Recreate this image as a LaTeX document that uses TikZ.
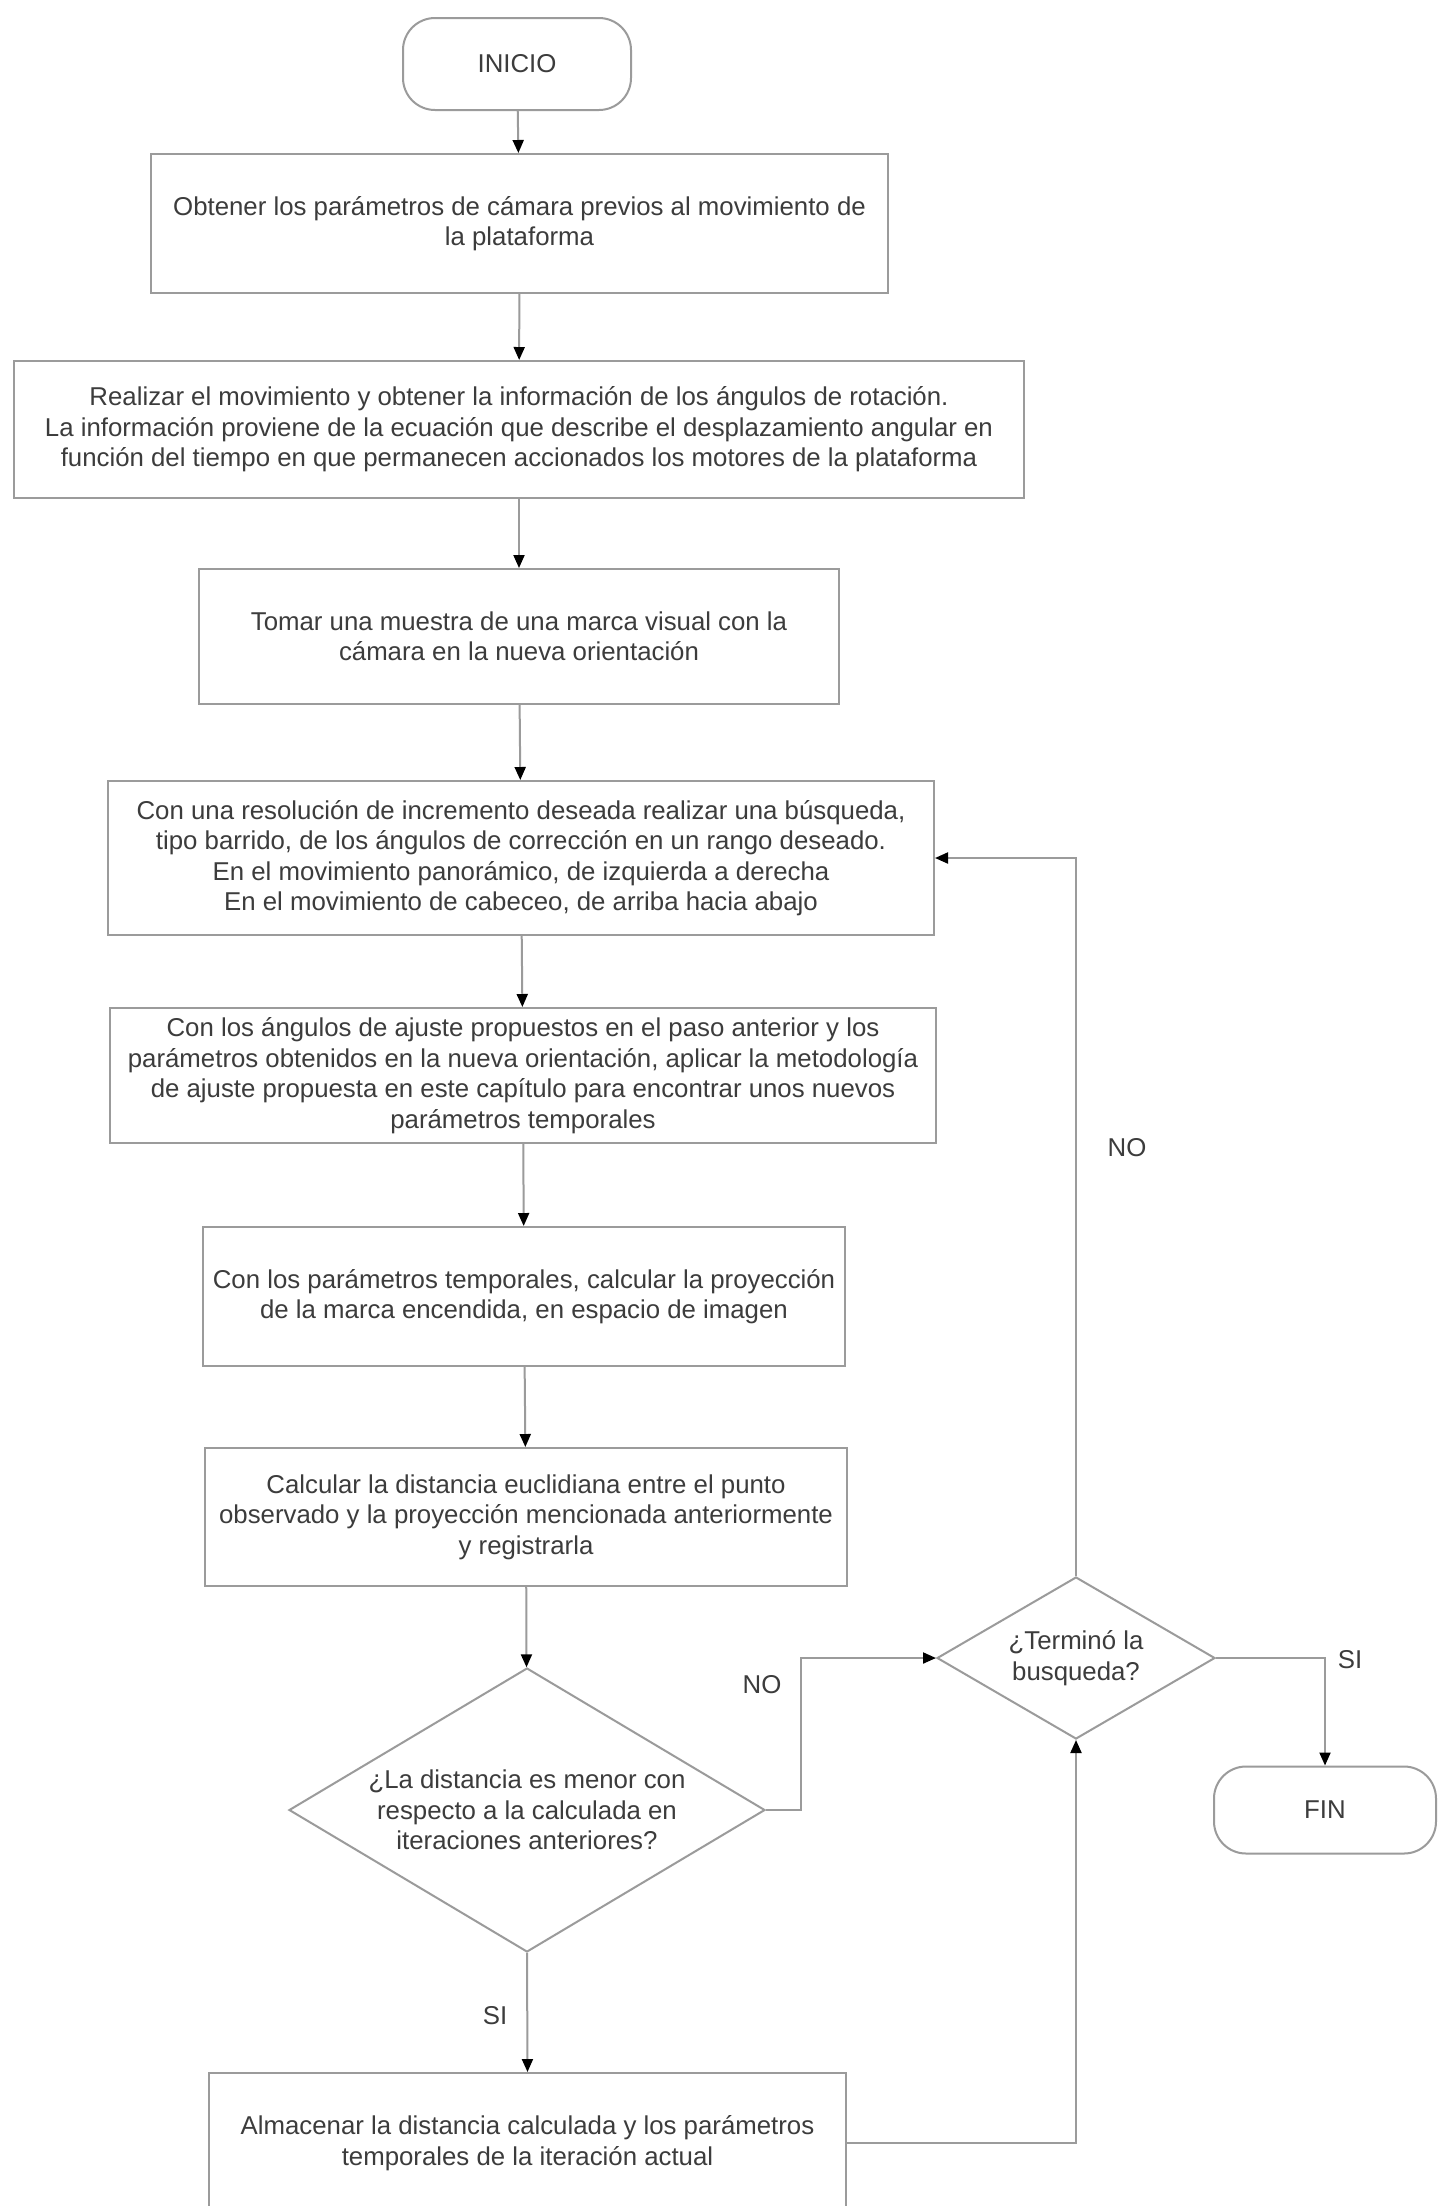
\documentclass[tikz,border=0pt]{standalone}
\usepackage{fontspec}
\setmainfont{Liberation Sans}
\usetikzlibrary{shapes.geometric,arrows.meta}
\definecolor{linegray}{RGB}{155,155,155}
\definecolor{txtgray}{RGB}{60,60,60}
\begin{document}
\begin{tikzpicture}[x=1pt,y=-1pt,
  every node/.style={font=\fontsize{25.8}{30.5}\selectfont, text=txtgray},
  box/.style={draw=linegray, line width=2pt, rectangle, align=center, inner sep=0pt},
  term/.style={draw=linegray, line width=2pt, rectangle, rounded corners=32pt, align=center, inner sep=0pt},
  dec/.style={draw=linegray, line width=2pt, diamond, align=center, inner sep=0pt},
  conn/.style={draw=linegray, line width=2pt, -{Triangle[length=13pt,width=11pt,color=black]}},
  lbl/.style={inner sep=0pt}
]
\useasboundingbox (0,0) rectangle (1438,2206);
\clip (0,0) rectangle (1438,2206);
\fill[white] (0,0) rectangle (1438,2206);

\node[term, minimum width=228pt, minimum height=92pt] (inicio) at (517,64) {INICIO};
\node[box, minimum width=737pt, minimum height=139pt] (b1) at (519.5,223.5)
  {Obtener los parámetros de cámara previos al movimiento de\\la plataforma};
\node[box, minimum width=1010pt, minimum height=137pt] (b2) at (519,429.5)
  {Realizar el movimiento y obtener la información de los ángulos de rotación.\\
   La información proviene de la ecuación que describe el desplazamiento angular en\\
   función del tiempo en que permanecen accionados los motores de la plataforma};
\node[box, minimum width=640pt, minimum height=135pt] (b3) at (519,636.5)
  {Tomar una muestra de una marca visual con la\\cámara en la nueva orientación};
\node[box, minimum width=826pt, minimum height=154pt] (b4) at (521,858)
  {Con una resolución de incremento deseada realizar una búsqueda,\\
   tipo barrido, de los ángulos de corrección en un rango deseado.\\
   En el movimiento panorámico, de izquierda a derecha\\
   En el movimiento de cabeceo, de arriba hacia abajo};
\node[box, minimum width=826pt, minimum height=135pt] (b5) at (523,1075.5)
  {Con los ángulos de ajuste propuestos en el paso anterior y los\\
   parámetros obtenidos en la nueva orientación, aplicar la metodología\\
   de ajuste propuesta en este capítulo para encontrar unos nuevos\\
   parámetros temporales};
\node[box, minimum width=642pt, minimum height=139pt] (b6) at (524,1296.5)
  {Con los parámetros temporales, calcular la proyección\\
   de la marca encendida, en espacio de imagen};
\node[box, minimum width=642pt, minimum height=138pt] (b7) at (526,1517)
  {Calcular la distancia euclidiana entre el punto\\
   observado y la proyección mencionada anteriormente\\
   y registrarla};
\node[dec, minimum width=476pt, minimum height=284pt, aspect=1.676] (d1) at (527,1810)
  {¿La distancia es menor con\\respecto a la calculada en\\iteraciones anteriores?};
\node[dec, minimum width=278pt, minimum height=162pt, aspect=1.716] (d2) at (1076,1658)
  {¿Terminó la\\busqueda?};
\node[box, minimum width=637pt, minimum height=140pt] (b8) at (527.5,2143)
  {Almacenar la distancia calculada y los parámetros\\
   temporales de la iteración actual};
\node[term, minimum width=222pt, minimum height=87pt] (fin) at (1325,1810) {FIN};

\coordinate (c1) at (801,1810);
\draw[conn] (inicio) -- (b1);
\draw[conn] (b1) -- (b2);
\draw[conn] (b2) -- (b3);
\draw[conn] (b3) -- (b4);
\draw[conn] (b4) -- (b5);
\draw[conn] (b5) -- (b6);
\draw[conn] (b6) -- (b7);
\draw[conn] (b7) -- (d1);
\draw[conn] (d1.south) -- (b8.north);
\draw[conn] (d1.east) -- (c1) |- (d2.west);
\draw[conn] (d2.north) |- (b4.east);
\draw[conn] (d2.east) -| (fin.north);
\draw[conn] (b8.east) -| (d2.south);

\node[lbl] (no1) at (762,1685) {NO};
\node[lbl] (no2) at (1127,1148) {NO};
\node[lbl] (si1) at (1350,1660) {SI};
\node[lbl] (si2) at (495,2016) {SI};
\end{tikzpicture}
\end{document}
